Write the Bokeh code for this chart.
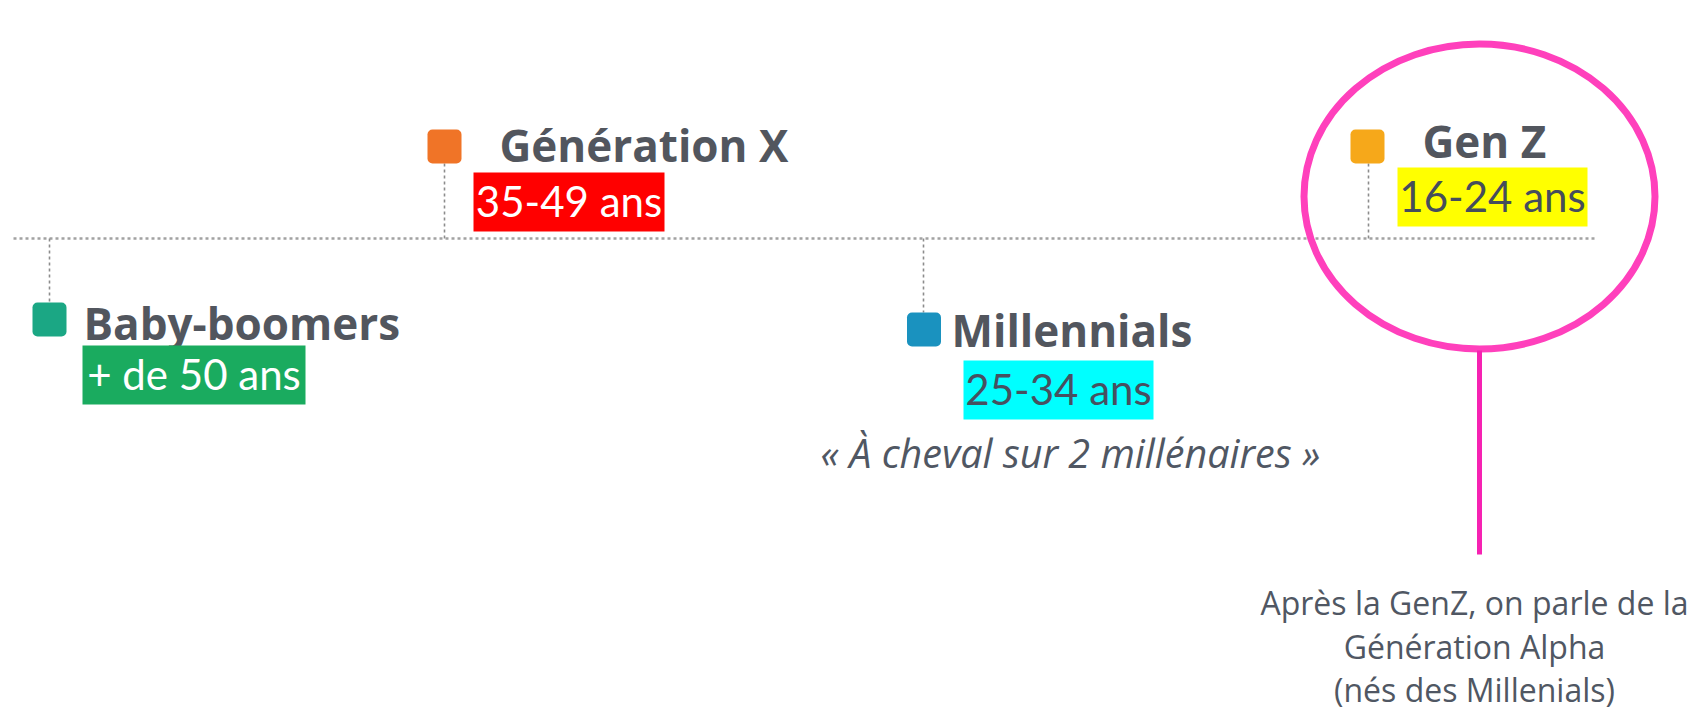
from bokeh.plotting import figure
from bokeh.models import Range1d
from bokeh.core.properties import value
from bokeh.embed import file_html
from bokeh.resources import INLINE

# ---- content ----
generations = ["Baby-boomers", "Génération X", "Millennials", "Gen Z"]
age_ranges = ["+ de 50 ans", "35-49 ans", "25-34 ans", "16-24 ans"]
millennial_note = "« À cheval sur 2 millénaires »"
alpha_note = ["Après la GenZ, on parle de la", "Génération Alpha", "(nés des Millenials)"]

# ---- styles ----
marker_colors = ["#1ba784", "#f07427", "#1a92bf", "#f6a81a"]
highlight_colors = ["#1aab5f", "#ff0000", "#00ffff", "#ffff00"]
age_text_colors = ["#ffffff", "#ffffff", "#475060", "#454d5c"]
title_color = "#52565e"
note_color = "#505763"
pink_ring = "#ff40bc"
pink_line = "#f622b2"

# ---- layout (screen pixels) ----
marker_x = [49, 444, 923.5, 1367]
marker_y = [319, 146, 329, 146]
stem_x = [49, 444, 923, 1368]
stem_top = [238, 163, 238, 163]
stem_bottom = [302, 238, 312, 238]
title_x = [83, 499, 951, 1422]
title_base = [337, 159, 344, 155]
box_left = [82, 473, 963, 1397]
box_right = [305, 664, 1153, 1587]
box_top = [345, 172, 360, 167]
BOX_H = 59
MARK = 34
# baseline corrections for the text renderer
OFF_TITLE = 15
OFF_AGE = 17
OFF_ITAL = 14
OFF_NOTE = 13

W, H = 1694, 710
p = figure(width=W, height=H, output_backend="svg", toolbar_location=None,
           x_range=Range1d(0, W), y_range=Range1d(H, 0),
           x_axis_type=None, y_axis_type=None, min_border=0,
           outline_line_color=None, background_fill_color="white",
           border_fill_color="white")
p.grid.visible = False

# timeline
p.line(x=[13, 1597], y=[238, 238], line_color="#a2a2a2", line_width=2.5, line_dash="3 3")
p.segment(x0=stem_x, y0=stem_top, x1=stem_x, y1=stem_bottom,
          line_color="#8c8c8c", line_width=1.6, line_dash="3 3")

# markers
p.quad(left=[x - MARK / 2 for x in marker_x], right=[x + MARK / 2 for x in marker_x],
       top=[y - MARK / 2 for y in marker_y], bottom=[y + MARK / 2 for y in marker_y],
       fill_color=marker_colors, line_color=None, border_radius=5)

# titles
p.text(x=title_x, y=[b - OFF_TITLE for b in title_base], text=generations,
       text_font=value("Open Sans"), text_font_style="bold", text_font_size="44px",
       text_color=title_color, text_align="left", text_baseline="alphabetic")

# age highlight boxes
p.quad(left=box_left, right=box_right, top=box_top,
       bottom=[t + BOX_H for t in box_top], fill_color=highlight_colors, line_color=None)
p.text(x=[(l + r) / 2 for l, r in zip(box_left, box_right)],
       y=[t + 45 - OFF_AGE for t in box_top], text=age_ranges, text_font=value("Lato"),
       text_font_size="42px", text_color=age_text_colors,
       text_align="center", text_baseline="alphabetic")

# millennial note
p.text(x=[1070], y=[466 - OFF_ITAL], text=[millennial_note], text_font=value("Open Sans"),
       text_font_style="italic", text_font_size="39.5px", text_color=note_color,
       text_align="center", text_baseline="alphabetic")

# Gen Z ring + pointer
p.ellipse(x=[1479], y=[196], width=[351], height=[305], fill_color=None,
          line_color=pink_ring, line_width=7)
p.segment(x0=[1479], y0=[350], x1=[1479], y1=[554], line_color=pink_line, line_width=5)

# alpha note
p.text(x=[1474] * 3, y=[b - OFF_NOTE for b in [615, 659, 702]], text=alpha_note,
       text_font=value("Open Sans"), text_font_size="32px", text_color=note_color,
       text_align="center", text_baseline="alphabetic")

open("out.html", "w").write(file_html(p, INLINE))
